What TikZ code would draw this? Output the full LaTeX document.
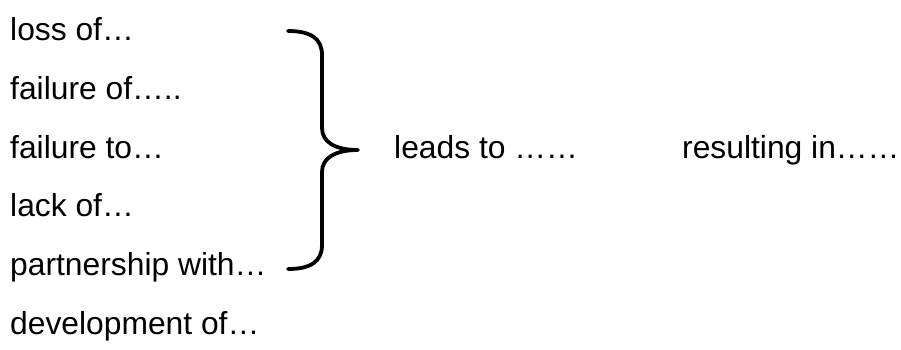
\documentclass[tikz,border=0pt]{standalone}
\usepackage{fontspec}
\setmainfont{Liberation Sans}
\begin{document}
\begin{tikzpicture}[x=1pt,y=-1pt,
  lbl/.style={anchor=base west,inner sep=0pt,font=\fontsize{31.8}{36}\selectfont},
  bracepath/.style={line width=3.8pt,line cap=round,line join=round}]
\useasboundingbox (0,0) rectangle (901,349);
\node[lbl] (t1) at (10,40.7) {loss of…};
\node[lbl] (t2) at (10,99.4) {failure of…..};
\node[lbl] (t3) at (10,158) {failure to…};
\node[lbl] (t4) at (10,216.7) {lack of…};
\node[lbl] (t5) at (10,275.4) {partnership with…};
\node[lbl] (t6) at (10,334) {development of…};
\node[lbl] (lead) at (394,158) {leads to ……};
\node[lbl] (res) at (682,158) {resulting in……};
\coordinate (btop) at (288,31);
\coordinate (btip) at (358,150);
\coordinate (bbot) at (288,269);
\draw[bracepath] (btop) .. controls (310,31) and (322,38) .. (322,55)
  -- (322,128) .. controls (322,142) and (335,150) .. (btip)
  .. controls (335,150) and (322,158) .. (322,172)
  -- (322,245) .. controls (322,262) and (310,269) .. (bbot);
\end{tikzpicture}
\end{document}
